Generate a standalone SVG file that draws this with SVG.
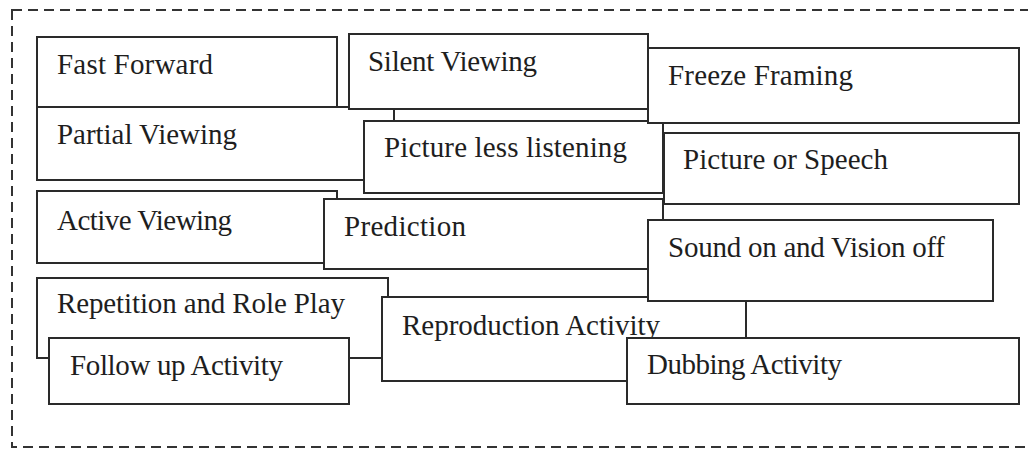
<svg xmlns="http://www.w3.org/2000/svg" width="1028" height="449" viewBox="0 0 1028 449">
<style>
.box{fill:#fff;stroke:#2a2a2a;stroke-width:2}
.lbl{font-family:"Liberation Serif","Times New Roman",serif;font-size:29px;fill:#1e1e1e}
.frame{fill:none;stroke:#333;stroke-width:2;stroke-dasharray:10 6}
</style>
<rect class="frame" x="12" y="10" width="1040" height="437"/>
<g id="connectors"/>
<g id="fast-forward"><rect class="box" x="37" y="37" width="300" height="70"/><text class="lbl" x="57" y="74" textLength="156" lengthAdjust="spacing">Fast Forward</text></g>
<g id="partial-viewing"><rect class="box" x="37" y="107" width="357" height="73"/><text class="lbl" x="57" y="144" textLength="180" lengthAdjust="spacing">Partial Viewing</text></g>
<g id="silent-viewing"><rect class="box" x="349" y="34" width="299" height="75"/><text class="lbl" x="368" y="71" textLength="169" lengthAdjust="spacing">Silent Viewing</text></g>
<g id="picture-less-listening"><rect class="box" x="364" y="121" width="299" height="72"/><text class="lbl" x="384" y="157" textLength="243" lengthAdjust="spacing">Picture less listening</text></g>
<g id="freeze-framing"><rect class="box" x="648" y="48" width="371" height="75"/><text class="lbl" x="668" y="85" textLength="185" lengthAdjust="spacing">Freeze Framing</text></g>
<g id="picture-or-speech"><rect class="box" x="664" y="133" width="355" height="71"/><text class="lbl" x="683" y="169" textLength="205" lengthAdjust="spacing">Picture or Speech</text></g>
<g id="active-viewing"><rect class="box" x="37" y="191" width="300" height="72"/><text class="lbl" x="57" y="230" textLength="175" lengthAdjust="spacing">Active Viewing</text></g>
<g id="prediction"><rect class="box" x="324" y="199" width="339" height="70"/><text class="lbl" x="344" y="236" textLength="122" lengthAdjust="spacing">Prediction</text></g>
<g id="repetition-role-play"><rect class="box" x="37" y="278" width="351" height="80"/><text class="lbl" x="57" y="313" textLength="288" lengthAdjust="spacing">Repetition and Role Play</text></g>
<g id="reproduction-activity"><rect class="box" x="382" y="297" width="364" height="84"/><text class="lbl" x="402" y="335" textLength="258" lengthAdjust="spacing">Reproduction Activity</text></g>
<g id="sound-on-vision-off"><rect class="box" x="648" y="220" width="345" height="81"/><text class="lbl" x="668" y="257" textLength="277" lengthAdjust="spacing">Sound on and Vision off</text></g>
<g id="follow-up-activity"><rect class="box" x="49" y="338" width="300" height="66"/><text class="lbl" x="70" y="375" textLength="213" lengthAdjust="spacing">Follow up Activity</text></g>
<g id="dubbing-activity"><rect class="box" x="627" y="338" width="392" height="66"/><text class="lbl" x="647" y="374" textLength="195" lengthAdjust="spacing">Dubbing Activity</text></g>
</svg>
